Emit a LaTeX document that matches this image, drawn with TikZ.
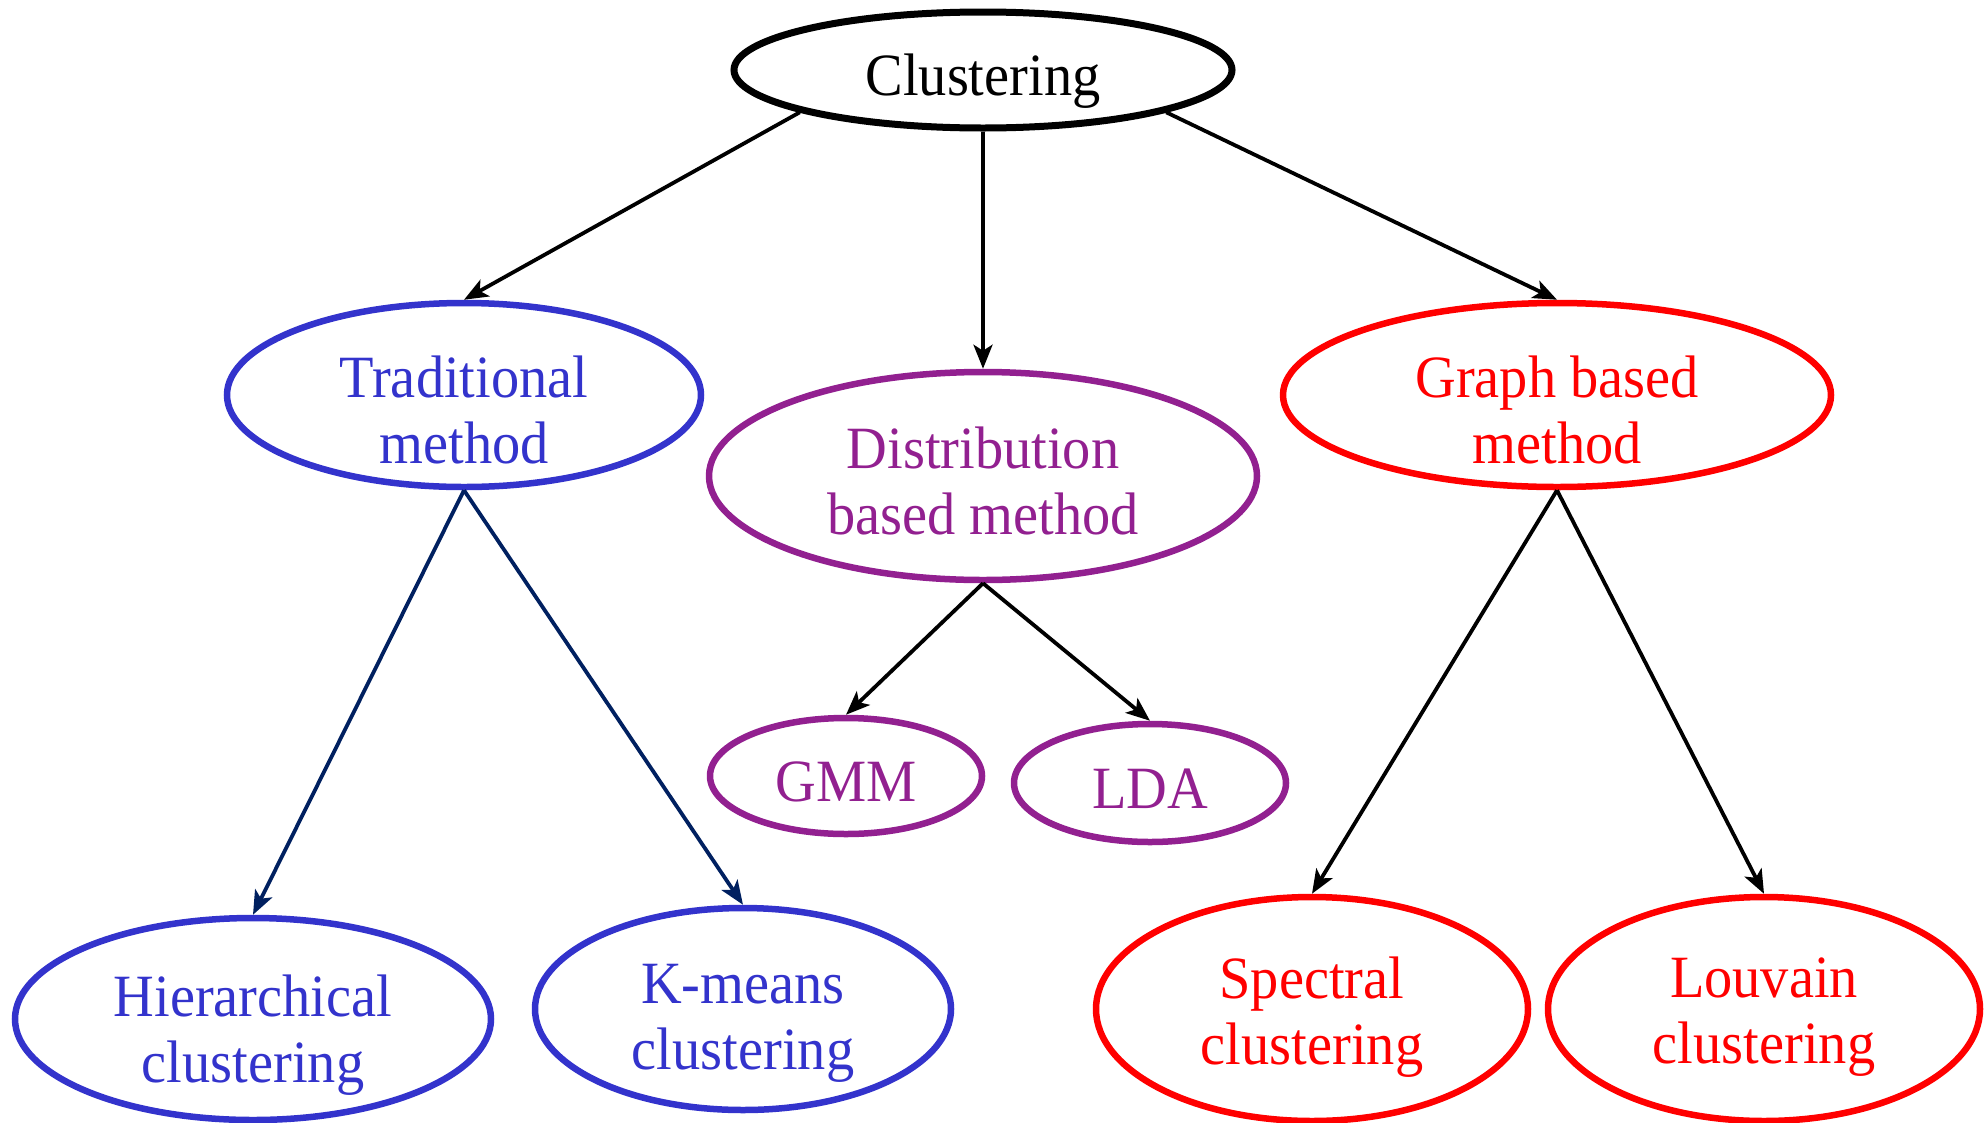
\documentclass[tikz,border=0pt]{standalone}
\usepackage{fontspec}
\setmainfont{Liberation Serif}[FakeStretch=0.94]
\usetikzlibrary{shapes.geometric,arrows.meta}
\definecolor{tblue}{RGB}{51,51,204}
\definecolor{tpurple}{RGB}{146,32,144}
\definecolor{tred}{RGB}{255,0,0}
\definecolor{tnavy}{RGB}{0,32,96}
\tikzset{
  ell/.style={ellipse, draw, line width=6.5pt, inner sep=0pt},
  txt/.style={align=center, inner sep=0pt, font=\fontsize{60}{66}\selectfont},
  arr/.style={line width=3.8pt, -{Stealth[length=24pt,width=19pt,inset=6pt]}},
}
\begin{document}
\begin{tikzpicture}[x=1pt,y=-1pt]
\useasboundingbox (0,0) rectangle (1984,1122);
% ellipses
\node[ell, line width=7pt, minimum width=498pt, minimum height=116pt] (c) at (983,70) {};
\node[ell, tblue, minimum width=474pt, minimum height=184pt] (trad) at (464,395) {};
\node[ell, tpurple, minimum width=548pt, minimum height=208pt] (dist) at (983,476) {};
\node[ell, tred, minimum width=548pt, minimum height=184pt] (graph) at (1557,395) {};
\node[ell, tpurple, minimum width=272pt, minimum height=116pt] (gmm) at (846,776) {};
\node[ell, tpurple, minimum width=272pt, minimum height=118pt] (lda) at (1150,783) {};
\node[ell, tblue, minimum width=476pt, minimum height=202pt] (hier) at (253,1019) {};
\node[ell, tblue, minimum width=416pt, minimum height=202pt] (km) at (743,1009) {};
\node[ell, tred, minimum width=432pt, minimum height=224pt] (spec) at (1312,1009) {};
\node[ell, tred, minimum width=432pt, minimum height=224pt] (louv) at (1764,1009) {};
% texts
\node[txt] (cT) at (983,81) {Clustering};
\node[txt, tblue] (tradT) at (464,410) {Traditional\\method};
\node[txt, tpurple] (distT) at (983,481) {Distribution\\based method};
\node[txt, tred] (graphT) at (1557,410) {Graph based\\method};
\node[txt, tpurple] (gmmT) at (846,782) {GMM};
\node[txt, tpurple] (ldaT) at (1150,789) {LDA};
\node[txt, tblue] (hierT) at (253,1035) {Hierarchical\\clustering};
\node[txt, tblue] (kmT) at (743,1023) {K-means\\clustering};
\node[txt, tred] (specT) at (1312,1017) {Spectral\\clustering};
\node[txt, tred] (louvT) at (1764,1017) {Louvain\\clustering};
% arrows
\draw[arr] (c.193.9) -- (trad.north);
\draw[arr] (c.south) -- (dist.north);
\draw[arr] (c.-13.8) -- (graph.north);
\draw[arr, tnavy] (trad.south) -- (hier.north);
\draw[arr, tnavy] (trad.south) -- (km.north);
\draw[arr] (dist.south) -- (gmm.north);
\draw[arr] (dist.south) -- (lda.north);
\draw[arr] (graph.south) -- (spec.north);
\draw[arr] (graph.south) -- (louv.north);
\end{tikzpicture}
\end{document}
